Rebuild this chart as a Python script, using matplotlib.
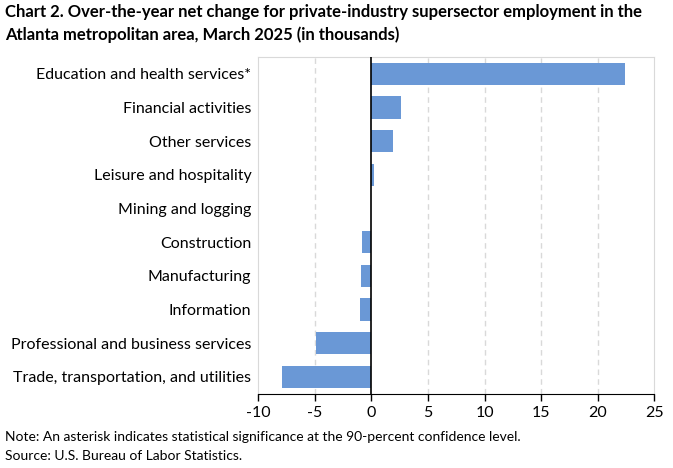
import matplotlib.pyplot as plt

plt.rcParams['font.family'] = ['Lato', 'DejaVu Sans']

# categories (bottom to top) and over-the-year change, thousands
categories = ['Trade, transportation, and utilities', 'Professional and business services',
              'Information', 'Manufacturing', 'Construction', 'Mining and logging',
              'Leisure and hospitality', 'Other services', 'Financial activities',
              'Education and health services*']
values = [-7.9, -4.9, -1.0, -0.9, -0.8, 0.0, 0.2, 1.9, 2.6, 22.4]
xticks = [-10, -5, 0, 5, 10, 15, 20, 25]

fig = plt.figure(figsize=(6.73, 4.68), dpi=100)
ax = fig.add_axes([258.3 / 673, 1 - 393.7 / 468, (654.3 - 258.3) / 673, (393.7 - 57) / 468])

ax.barh(range(len(categories)), values, height=0.67, color='#6a98d6', zorder=3)
ax.set_xlim(-10, 25)
ax.set_ylim(-0.5, len(categories) - 0.5)
ax.set_xticks(xticks)
ax.set_xticklabels([str(t) for t in xticks], fontsize=11.5)
ax.set_yticks(range(len(categories)))
ax.set_yticklabels(categories, fontsize=11.5)
ax.tick_params(axis='y', length=0, pad=5)
ax.tick_params(axis='x', length=5, width=1, direction='out', pad=4)

for t in xticks[1:-1]:
    if t == 0:
        ax.axvline(0, color='black', lw=1.2, zorder=4)
    else:
        ax.axvline(t, color='#d9d9d9', lw=1, ls=(0, (4, 3)), zorder=1)

for s in ['top', 'left', 'right']:
    ax.spines[s].set_color('#d9d9d9')
ax.spines['bottom'].set_color('black')

fig.text(5 / 673, 1 - 4 / 468, 'Chart 2. Over-the-year net change for private-industry supersector employment in the\n'
         'Atlanta metropolitan area, March 2025 (in thousands)',
         fontsize=12, fontweight='bold', va='top', ha='left', linespacing=1.45)
fig.text(5 / 673, 1 - 437 / 468, 'Note: An asterisk indicates statistical significance at the 90-percent confidence level.',
         fontsize=10, va='center', ha='left')
fig.text(5 / 673, 1 - 456 / 468, 'Source: U.S. Bureau of Labor Statistics.', fontsize=10, va='center', ha='left')

fig.savefig('out.png', dpi=100)
